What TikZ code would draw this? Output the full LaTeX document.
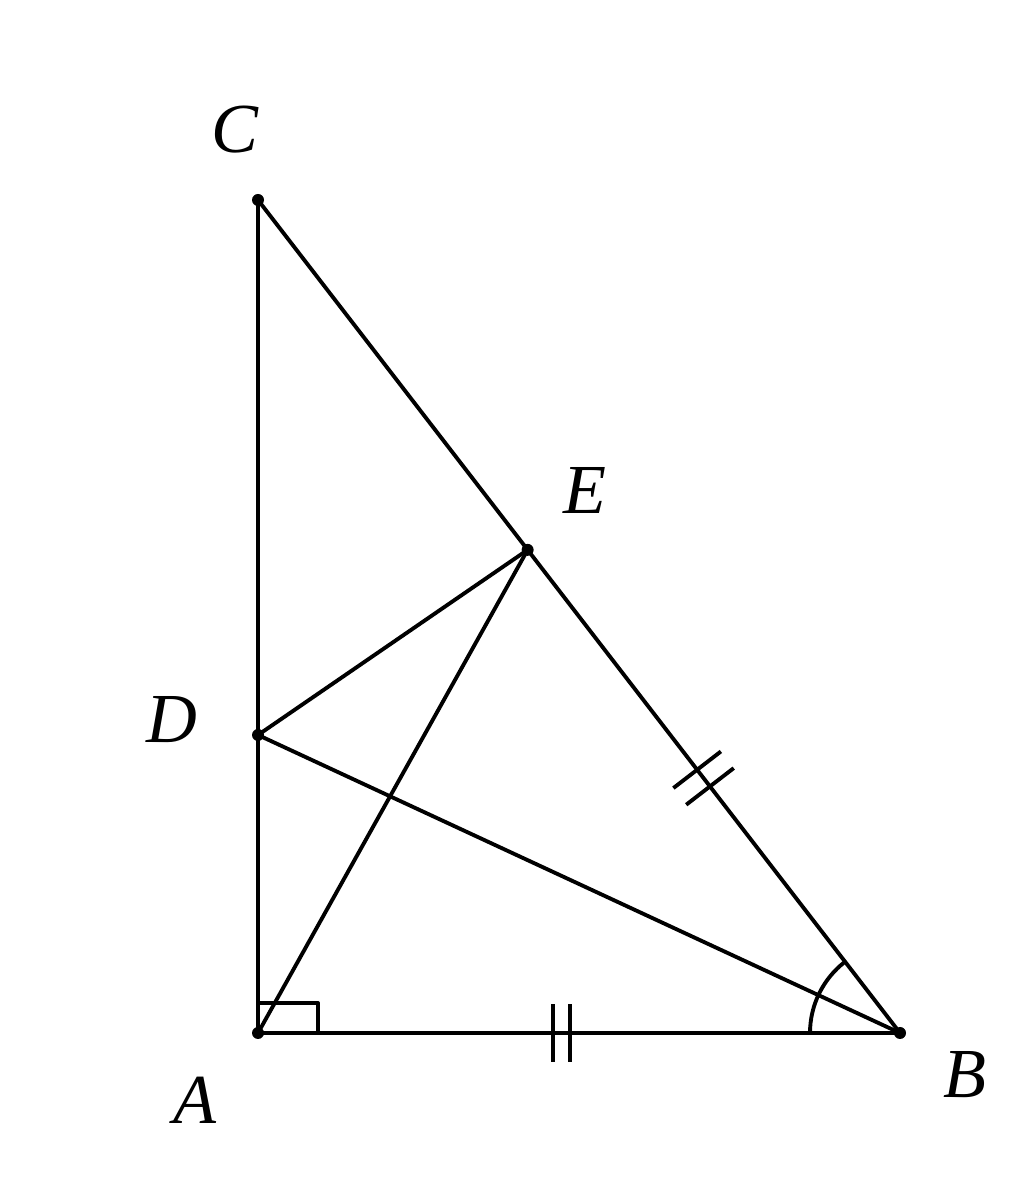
\documentclass[tikz,border=0pt]{standalone}
\usepackage{fontspec}
\setmainfont{Liberation Serif}
\usetikzlibrary{calc}

\begin{document}
\begin{tikzpicture}[line width=1.1pt, line join=round,
     pt/.style = {circle, fill=black, inner sep=0pt, minimum size=1.2mm},
     lbl/.style = {font=\fontsize{20}{20}\selectfont\itshape, inner sep=0pt},
     tick/.style = {line width=1.1pt}]
        \useasboundingbox (0,0) rectangle (10.24,11.78);
        % vertices
        \node [pt] at (2.58,1.45)  (A) {};
        \node [pt] at (9.00,1.45)  (B) {};
        \node [pt] at (2.58,9.78)  (C) {};
        \node [pt] at (2.58,4.43)  (D) {};
        \node [pt] at ($(B)!0.58!(C)$) (E) {};
        % labels
        \node [lbl] at (1.95,0.78)  (LA) {A};
        \node [lbl] at (9.65,1.03)  (LB) {B};
        \node [lbl] at (2.35,10.48) (LC) {C};
        \node [lbl] at (1.72,4.58)  (LD) {D};
        \node [lbl] at (5.85,6.88)  (LE) {E};
        % sides and segments
        \draw (A.center) -- (B.center) -- (C.center) -- cycle;
        \draw (D.center) -- (E.center);
        \draw (D.center) -- (B.center);
        \draw (A.center) -- (E.center);
        % right angle at A
        \coordinate (ra1) at ($(A)+(0.6,0)$);
        \coordinate (ra2) at ($(A)+(0.6,0.3)$);
        \coordinate (ra3) at ($(A)+(0,0.3)$);
        \draw (ra1) -- (ra2) -- (ra3);
        % angle at B
        \coordinate (arcB) at ($(B)+(180:0.9)$);
        \draw (arcB) arc[start angle=180, end angle=127.6, radius=0.9];
        % equal marks on AB
        \coordinate (m1) at (5.53,1.45);
        \coordinate (m2) at (5.70,1.45);
        \draw [tick] ($(m1)+(0,-0.29)$) -- ($(m1)+(0,0.29)$);
        \draw [tick] ($(m2)+(0,-0.29)$) -- ($(m2)+(0,0.29)$);
        % equal marks on BE
        \coordinate (n1) at ($(B)!0.296!(C)$);
        \coordinate (n2) at ($(B)!0.316!(C)$);
        \draw [tick] ($(n1)!0.3cm!90:(C)$) -- ($(n1)!0.3cm!-90:(C)$);
        \draw [tick] ($(n2)!0.3cm!90:(C)$) -- ($(n2)!0.3cm!-90:(C)$);
\end{tikzpicture}
\end{document}
